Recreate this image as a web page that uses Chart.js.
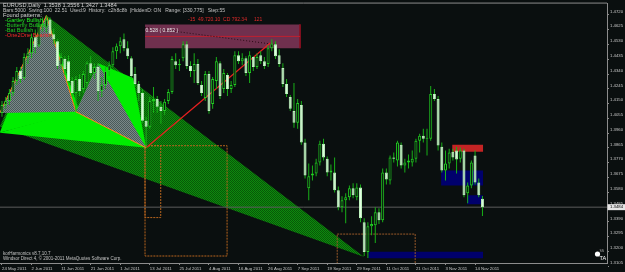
<!DOCTYPE html>
<html>
<head>
<meta charset="utf-8">
<script src="https://cdn.jsdelivr.net/npm/chart.js@4.4.0/dist/chart.umd.min.js"></script>
<style>
html,body{margin:0;padding:0;background:#0a0f0f;overflow:hidden}
canvas{display:block}
</style>
</head>
<body>
<canvas id="c" width="625" height="272"></canvas>
<script>
// EURUSD daily bars, bar index 0 = 24 May 2011
var opens = [1.4090,1.4141,1.4167,1.4218,1.4295,1.4359,1.4314,1.4449,1.4474,1.4576,
  1.4524,1.4652,1.4640,1.4691,1.4595,1.4550,1.4397,1.4436,1.4423,1.4295,
  1.4218,1.4308,1.4244,1.4282,1.4410,1.4346,1.4385,1.4231,1.4269,1.4359,
  1.4397,1.4487,1.4518,1.4563,1.4505,1.4442,1.4340,1.4276,1.4218,1.4039,
  1.4001,1.4167,1.4180,1.4129,1.4103,1.4167,1.4225,1.4423,1.4397,1.4442,
  1.4531,1.4391,1.4359,1.4404,1.4269,1.4186,1.4340,1.4148,1.4295,1.4410,
  1.4244,1.4333,1.4244,1.4269,1.4461,1.4423,1.4442,1.4346,1.4449,1.4385,
  1.4461,1.4423,1.4404,1.4505,1.4531,1.4461,1.4378,1.4276,1.4193,1.4103,
  1.4026,1.4141,1.3899,1.3605,1.3688,1.3701,1.3771,1.3892,1.3796,1.3707,
  1.3707,1.3592,1.3483,1.3528,1.3547,1.3605,1.3547,1.3611,1.3387,1.3196,
  1.3362,1.3368,1.3451,1.3400,1.3707,1.3656,1.3803,1.3784,1.3886,1.3752,
  1.3771,1.3771,1.3796,1.3911,1.3943,1.3924,1.3924,1.4212,1.4180,1.3873,
  1.3720,1.3765,1.3841,1.3848,1.3796,1.3848,1.3573,1.3624,1.3816,1.3643,
  1.3538];
var highs = [1.4167,1.4193,1.4244,1.4321,1.4385,1.4385,1.4474,1.4505,1.4601,1.4627,
  1.4678,1.4704,1.4716,1.4704,1.4633,1.4563,1.4474,1.4455,1.4461,1.4321,
  1.4327,1.4340,1.4359,1.4423,1.4455,1.4410,1.4410,1.4321,1.4385,1.4423,
  1.4512,1.4537,1.4576,1.4601,1.4550,1.4455,1.4385,1.4295,1.4244,1.4065,
  1.4193,1.4257,1.4199,1.4167,1.4180,1.4244,1.4455,1.4474,1.4436,1.4550,
  1.4550,1.4423,1.4474,1.4436,1.4295,1.4359,1.4359,1.4321,1.4449,1.4423,
  1.4372,1.4346,1.4295,1.4487,1.4487,1.4474,1.4455,1.4487,1.4455,1.4474,
  1.4487,1.4449,1.4525,1.4563,1.4550,1.4499,1.4410,1.4308,1.4205,1.4282,
  1.4180,1.4167,1.3924,1.3765,1.3752,1.3796,1.3911,1.3924,1.3809,1.3758,
  1.3803,1.3617,1.3554,1.3573,1.3624,1.3637,1.3637,1.3630,1.3413,1.3387,
  1.3426,1.3483,1.3477,1.3733,1.3733,1.3816,1.3835,1.3911,1.3899,1.3796,
  1.3822,1.3848,1.3924,1.3956,1.3988,1.3988,1.4263,1.4244,1.4199,1.3899,
  1.3848,1.3860,1.3860,1.3873,1.3867,1.3860,1.3643,1.3784,1.3848,1.3669,
  1.3556];
var lows = [1.4065,1.4116,1.4141,1.4199,1.4269,1.4282,1.4301,1.4404,1.4442,1.4474,
  1.4512,1.4614,1.4608,1.4576,1.4531,1.4372,1.4372,1.4333,1.4282,1.4193,
  1.4097,1.4199,1.4218,1.4257,1.4327,1.4308,1.4167,1.4193,1.4244,1.4327,
  1.4385,1.4436,1.4474,1.4487,1.4436,1.4308,1.4257,1.4167,1.4026,1.3866,
  1.3988,1.4090,1.4090,1.4020,1.4078,1.4148,1.4212,1.4372,1.4359,1.4423,
  1.4372,1.4321,1.4282,1.4269,1.4199,1.4167,1.4084,1.4116,1.4244,1.4180,
  1.4218,1.4199,1.4218,1.4257,1.4404,1.4397,1.4327,1.4282,1.4359,1.4372,
  1.4404,1.4372,1.4385,1.4487,1.4436,1.4385,1.4257,1.4193,1.4103,1.3995,
  1.3988,1.3886,1.3669,1.3528,1.3656,1.3682,1.3752,1.3784,1.3682,1.3656,
  1.3579,1.3464,1.3451,1.3381,1.3528,1.3541,1.3528,1.3387,1.3170,1.3157,
  1.3304,1.3253,1.3375,1.3387,1.3630,1.3630,1.3771,1.3745,1.3733,1.3707,
  1.3733,1.3745,1.3771,1.3835,1.3899,1.3816,1.3911,1.4167,1.3848,1.3707,
  1.3656,1.3733,1.3784,1.3701,1.3771,1.3547,1.3509,1.3605,1.3630,1.3547,
  1.3427];
var closes = [1.4141,1.4167,1.4218,1.4295,1.4359,1.4308,1.4449,1.4474,1.4576,1.4512,
  1.4652,1.4665,1.4691,1.4595,1.4563,1.4391,1.4449,1.4372,1.4295,1.4218,
  1.4308,1.4231,1.4340,1.4410,1.4346,1.4385,1.4231,1.4269,1.4359,1.4397,
  1.4487,1.4518,1.4550,1.4505,1.4455,1.4327,1.4276,1.4218,1.4039,1.4001,
  1.4167,1.4180,1.4129,1.4103,1.4161,1.4225,1.4436,1.4397,1.4404,1.4531,
  1.4391,1.4359,1.4404,1.4282,1.4218,1.4340,1.4103,1.4308,1.4423,1.4199,
  1.4346,1.4244,1.4269,1.4461,1.4423,1.4442,1.4346,1.4461,1.4385,1.4449,
  1.4423,1.4391,1.4505,1.4537,1.4455,1.4404,1.4276,1.4212,1.4116,1.4026,
  1.4154,1.3899,1.3688,1.3682,1.3701,1.3771,1.3892,1.3803,1.3707,1.3720,
  1.3592,1.3483,1.3528,1.3547,1.3605,1.3560,1.3611,1.3413,1.3196,1.3362,
  1.3375,1.3451,1.3400,1.3707,1.3662,1.3803,1.3796,1.3899,1.3752,1.3771,
  1.3784,1.3796,1.3911,1.3943,1.3924,1.3931,1.4212,1.4180,1.3880,1.3720,
  1.3765,1.3835,1.3803,1.3790,1.3848,1.3560,1.3624,1.3771,1.3643,1.3560,
  1.3484];

var dateLabels = ['24 May 2011','2 Jun 2011','11 Jun 2011','21 Jun 2011','1 Jul 2011','13 Jul 2011',
  '25 Jul 2011','4 Aug 2011','16 Aug 2011','26 Aug 2011','7 Sep 2011','19 Sep 2011',
  '29 Sep 2011','11 Oct 2011','21 Oct 2011','3 Nov 2011','14 Nov 2011'];
var dateBars = [0,8,16,24,32,40,48,56,64,72,80,88,96,104,112,120,128];
var priceTicks = [1.3105,1.3200,1.3295,1.3390,1.3485,1.3580,1.3675,1.3770,1.3865,1.3960,
  1.4055,1.4150,1.4245,1.4340,1.4435,1.4530,1.4625,1.4720];

// harmonic pattern points [bar, price]
var butterflyWedge = [[-0.6,1.4001],[12,1.4716],[98,1.3164]];
var gartleyXAB = [[-0.6,1.3963],[12,1.4716],[21,1.4097]];
var batXAB = [[-0.6,1.4090],[12,1.4716],[20,1.4097]];
var gartleyXBD = [[-0.6,1.3963],[20,1.4097],[39,1.3866]];
var gartleyBCD = [[20,1.4097],[26,1.4410],[35.5,1.4314],[39,1.3866]];
var batBCD = [[20,1.4097],[26,1.4410],[39,1.3866]];
var legXA = [[-0.6,1.4090],[12,1.4716],[20,1.4097]];
var legBD = [[20,1.4097],[39,1.3866]];
var one2oneLeg = [[39,1.3866],[72.6,1.4540]];
var one2oneDots = [[38.7,1.4640],[73.5,1.4531]];

// boxes [x0, x1, top, bottom]
var projBox = [38.7, 80.65, 1.4659, 1.4506];
var projLine = 1.4582;
var redBox = [121.8, 130.2, 1.3886, 1.3841];
var navyBoxes = [[118.8,130.2,1.3720,1.3624],[125.8,130.2,1.3560,1.3502],[99.1,130.2,1.3198,1.3156]];
var orangeBoxes = [[38.7,60.9,1.3879,1.3170],[38.7,42.95,1.3879,1.3417],[90.7,111.8,1.3311,1.3090]];

var bid = closes[closes.length-1];

var ctx0 = document.getElementById('c').getContext('2d');
function dither(c1, c2) {
  var cv = document.createElement('canvas');
  cv.width = 2; cv.height = 2;
  var g = cv.getContext('2d');
  g.fillStyle = c1; g.fillRect(0,0,2,2);
  g.fillStyle = c2; g.fillRect(0,0,1,1); g.fillRect(1,1,1,1);
  return ctx0.createPattern(cv, 'repeat');
}
var grayDither = dither('#7a8888', '#4a5a5a');
var greenDither = dither('#0e8a0e', '#075807');

function pts(a) { return a.map(function (p) { return {x:p[0], y:p[1]}; }); }
function poly(a, color, ord) {
  return {type:'line', data:pts(a), fill:'shape', backgroundColor:color, borderWidth:0,
    pointRadius:0, tension:0, order:ord};
}
function seg(a, color, w, dash, ord) {
  return {type:'line', data:pts(a), fill:false, borderColor:color, borderWidth:w,
    borderDash:dash || [], pointRadius:0, tension:0, order:ord};
}
function box(b, color, ord) {
  return {type:'line', data:[{x:b[0], y:b[2]},{x:b[1], y:b[2]}], fill:{value:b[3]},
    backgroundColor:color, borderWidth:0, pointRadius:0, order:ord};
}
function outline(b, color, ord) {
  return seg([[b[0],b[2]],[b[1],b[2]],[b[1],b[3]],[b[0],b[3]],[b[0],b[2]]], color, 1, [2,1], ord);
}

var wicks = [], bulls = [], bears = [];
for (var i = 0; i < closes.length; i++) {
  wicks.push({x:i, y:[lows[i], highs[i]]});
  var lo = Math.min(opens[i], closes[i]), hi = Math.max(opens[i], closes[i]);
  if (closes[i] >= opens[i]) bulls.push({x:i, y:[lo, hi]});
  else bears.push({x:i, y:[lo, hi]});
}

var datasets = [
  poly(butterflyWedge, greenDither, 30),
  poly(gartleyXAB, '#00ee00', 29),
  poly(batXAB, grayDither, 28),
  poly(gartleyXBD, '#00ee00', 27),
  poly(gartleyBCD, '#00ee00', 26),
  poly(batBCD, grayDither, 25),
  box(projBox, '#70304e', 24),
  seg([[projBox[0],projLine],[projBox[1],projLine]], '#c02030', 1, null, 23),
  seg([[projBox[1],projBox[2]],[projBox[1],projBox[3]]], '#8a1020', 1, null, 23),
  seg(one2oneDots, '#2a0a14', 1, [1,2], 22),
  box(redBox, '#c42424', 21),
  box(navyBoxes[0], '#00006c', 21),
  box(navyBoxes[1], '#00006c', 21),
  box(navyBoxes[2], '#00006c', 21),
  outline(orangeBoxes[0], '#b8651e', 20),
  outline(orangeBoxes[1], '#b8651e', 20),
  outline(orangeBoxes[2], '#9a5a2a', 20),
  seg(legXA, '#ff7a20', 1, null, 19),
  seg(legBD, '#ff8a20', 1, null, 19),
  seg(one2oneLeg, '#e82020', 1.2, null, 19),
  seg([[-1,bid],[170,bid]], '#5c5c5c', 1, null, 18),
  {type:'bar', data:wicks, barThickness:1, grouped:false, backgroundColor:'#18b018',
    borderWidth:0, inflateAmount:0, order:3},
  {type:'bar', data:bulls, barThickness:3, grouped:false, backgroundColor:'#0a0f0f',
    borderColor:'#22cc22', borderWidth:1, borderSkipped:false, inflateAmount:0, minBarLength:1, order:2},
  {type:'bar', data:bears, barThickness:3, grouped:false, backgroundColor:'#e4ffe4',
    borderColor:'#bff2bf', borderWidth:1, borderSkipped:false, inflateAmount:0, minBarLength:1, order:1}
];

var FONT = 'Liberation Sans';
var textPlugin = {
  id: 'mtText',
  beforeDraw: function (chart) {
    var c = chart.ctx, a = chart.chartArea;
    c.save();
    c.fillStyle = '#0a0f0f';
    c.fillRect(0, 0, chart.width, chart.height);
    c.strokeStyle = '#8c8c8c';
    c.lineWidth = 1;
    c.beginPath(); c.moveTo(0, a.top - 0.5); c.lineTo(a.right, a.top - 0.5); c.stroke();
    c.restore();
  },
  afterDraw: function (chart) {
    var c = chart.ctx, xs = chart.scales.x, ys = chart.scales.y;
    c.save();
    c.textBaseline = 'middle';
    c.textAlign = 'left';
    c.font = '5.6px "' + FONT + '"';
    c.fillStyle = '#d4d4d4';
    c.fillText('EURUSD,Daily  1.3538 1.3556 1.3427 1.3484', 3, 5);
    c.font = '5px "' + FONT + '"';
    c.fillStyle = '#c4c4c4';
    c.fillText('Bars:5000  Swing:100  22.51  Used:9  History:  c2h8c8b  |HiddenD: ON   Range: [330,775]   Step:55', 3, 10.7);
    c.font = '5.6px "' + FONT + '"';
    c.fillStyle = '#d4d4d4';
    c.fillText('Found patterns:', 3, 15.5);
    c.fillStyle = '#22ee22'; c.fillText('-Gartley Bullish', 5, 20.5);
    c.fillStyle = '#22c822'; c.fillText('-Butterfly Bullish', 5, 25.5);
    c.fillStyle = '#22c822'; c.fillText('-Bat Bullish', 5, 30.5);
    c.fillStyle = '#ff2a2a'; c.fillText('-One2One Bearish', 5, 35.7);

    // projection box texts
    c.font = '5px "' + FONT + '"';
    c.fillStyle = '#e8e8e8';
    c.fillText('0.528 ( 0.852 )', xs.getPixelForValue(projBox[0]) + 0.5, ys.getPixelForValue(projBox[2]) + 6);
    c.fillStyle = '#e02a2a';
    c.fillText('-15  49.720.10  CD 792.34     121', 188, 20);

    // footer
    c.font = '4.5px "' + FONT + '"';
    c.fillStyle = '#c4c4c4';
    c.fillText('korHarmonics v8.7.10.7', 3, 254);
    c.fillText('Windsor Direct 4, \u00a9 2001-2011 MetaQuotes Software Corp.', 3, 259);

    // logo
    c.fillStyle = '#ffffff';
    c.beginPath(); c.arc(597.5, 254, 2.6, 0, Math.PI * 2); c.fill();
    c.font = '5.5px "' + FONT + '"';
    c.fillText('TA', 599.5, 258.5);
    c.font = '3.5px "' + FONT + '"';
    c.fillStyle = '#b0b0b0';
    c.fillText('SS', 599.5, 251.5);

    // bid label on the price scale
    var by = ys.getPixelForValue(bid);
    c.fillStyle = '#e6e6e6';
    c.fillRect(chart.chartArea.right + 0.5, by - 3, 18, 6);
    c.fillStyle = '#000000';
    c.font = '4.3px "' + FONT + '"';
    c.fillText(bid.toFixed(4), chart.chartArea.right + 3, by);
    c.restore();
  }
};

new Chart(ctx0, {
  type: 'bar',
  data: {datasets: datasets},
  options: {
    responsive: false,
    devicePixelRatio: 1,
    animation: false,
    events: [],
    layout: {padding: {top: 2, left: 0, right: 0, bottom: 0}},
    plugins: {legend: {display: false}, tooltip: {enabled: false}},
    scales: {
      x: {
        type: 'linear', min: -0.54, max: 163.7, offset: false,
        afterBuildTicks: function (axis) {
          axis.ticks = dateBars.map(function (v) { return {value: v}; });
        },
        afterFit: function (axis) { axis.height = 9; },
        ticks: {
          autoSkip: false, maxRotation: 0, align: 'start', padding: 1,
          color: '#c8c8c8', font: {family: FONT, size: 4.3},
          callback: function (v, k) { return dateLabels[k]; }
        },
        grid: {display: true, drawOnChartArea: false, drawTicks: true, tickLength: 2,
          color: '#8c8c8c', offset: false},
        border: {display: true, color: '#8c8c8c', width: 1}
      },
      y: {
        type: 'linear', position: 'right', min: 1.3125, max: 1.4793,
        afterBuildTicks: function (axis) {
          axis.ticks = priceTicks.map(function (v) { return {value: v}; });
        },
        afterFit: function (axis) { axis.width = 18; },
        ticks: {
          autoSkip: false, padding: 1, labelOffset: -3.4,
          color: '#c8c8c8', font: {family: FONT, size: 4.3},
          callback: function (v) { return v.toFixed(4); }
        },
        grid: {display: true, drawOnChartArea: false, drawTicks: true, tickLength: 2, color: '#8c8c8c'},
        border: {display: true, color: '#8c8c8c', width: 1}
      }
    }
  },
  plugins: [textPlugin]
});
</script>
</body>
</html>
